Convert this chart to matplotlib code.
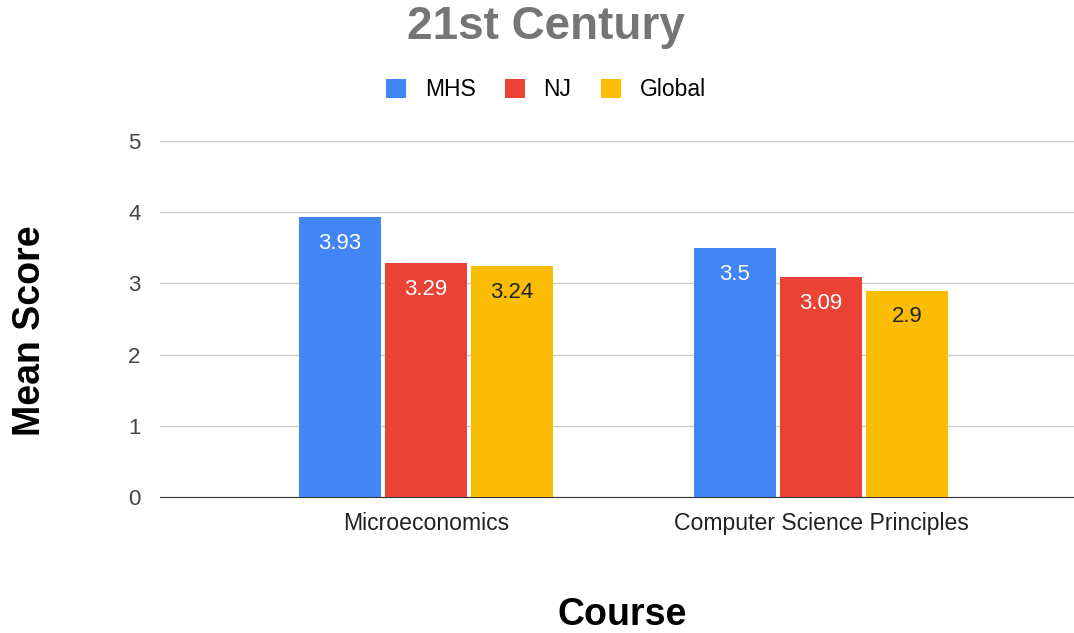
import matplotlib.pyplot as plt
import numpy as np

plt.rcParams['font.family'] = ['Liberation Sans', 'DejaVu Sans']

courses = ['Microeconomics', 'Computer Science Principles']
series = ['MHS', 'NJ', 'Global']
mhs = [3.93, 3.5]
nj = [3.29, 3.09]
global_ = [3.24, 2.9]
colors = ['#4285f4', '#ea4335', '#fbbc04']
label_colors = ['white', 'white', '#222222']

fig = plt.figure(figsize=(10.74, 6.33), dpi=100)
ax = fig.add_axes([160 / 1074, 1 - 497 / 633, 915 / 1074, 356 / 633])

x = np.arange(len(courses))
w = 0.207
step = 0.218
for i, (name, vals) in enumerate(zip(series, [mhs, nj, global_])):
    bars = ax.bar(x + (i - 1) * step, vals, w, color=colors[i], label=name, zorder=3)
    for b, v in zip(bars, vals):
        ax.text(b.get_x() + b.get_width() / 2, v - 0.37, f'{v:g}',
                ha='center', va='center', fontsize=16, color=label_colors[i], zorder=4)

ax.set_ylim(0, 5)
ax.set_xlim(-0.673, 1.643)
ax.set_yticks(range(6))
ax.yaxis.grid(True, color='#cccccc', linewidth=1, zorder=0)
ax.tick_params(axis='y', length=0, pad=14, labelsize=16, labelcolor='#444444')
ax.tick_params(axis='x', length=0, pad=11, labelsize=16.6, labelcolor='#222222')
ax.set_xticks(x)
ax.set_xticklabels(courses)
for s in ['top', 'right', 'left']:
    ax.spines[s].set_visible(False)
ax.spines['bottom'].set_color('#333333')

fig.text(546 / 1074, 1 - 27 / 633, '21st Century', ha='center', va='center',
         fontsize=33, fontweight='bold', color='#757575')
fig.text(622 / 1074, 1 - 615 / 633, 'Course', ha='center', va='center',
         fontsize=27, fontweight='bold', color='black')
fig.text(30 / 1074, 1 - 331 / 633, 'Mean Score', ha='center', va='center',
         rotation=90, fontsize=27, fontweight='bold', color='black')

leg = fig.legend(loc='center', bbox_to_anchor=(546 / 1074, 1 - 90 / 633), ncol=3,
                 frameon=False, fontsize=16.5, handlelength=0.87, handleheight=0.87,
                 columnspacing=1.3, handletextpad=0.8)

fig.savefig('out.png', dpi=100)
